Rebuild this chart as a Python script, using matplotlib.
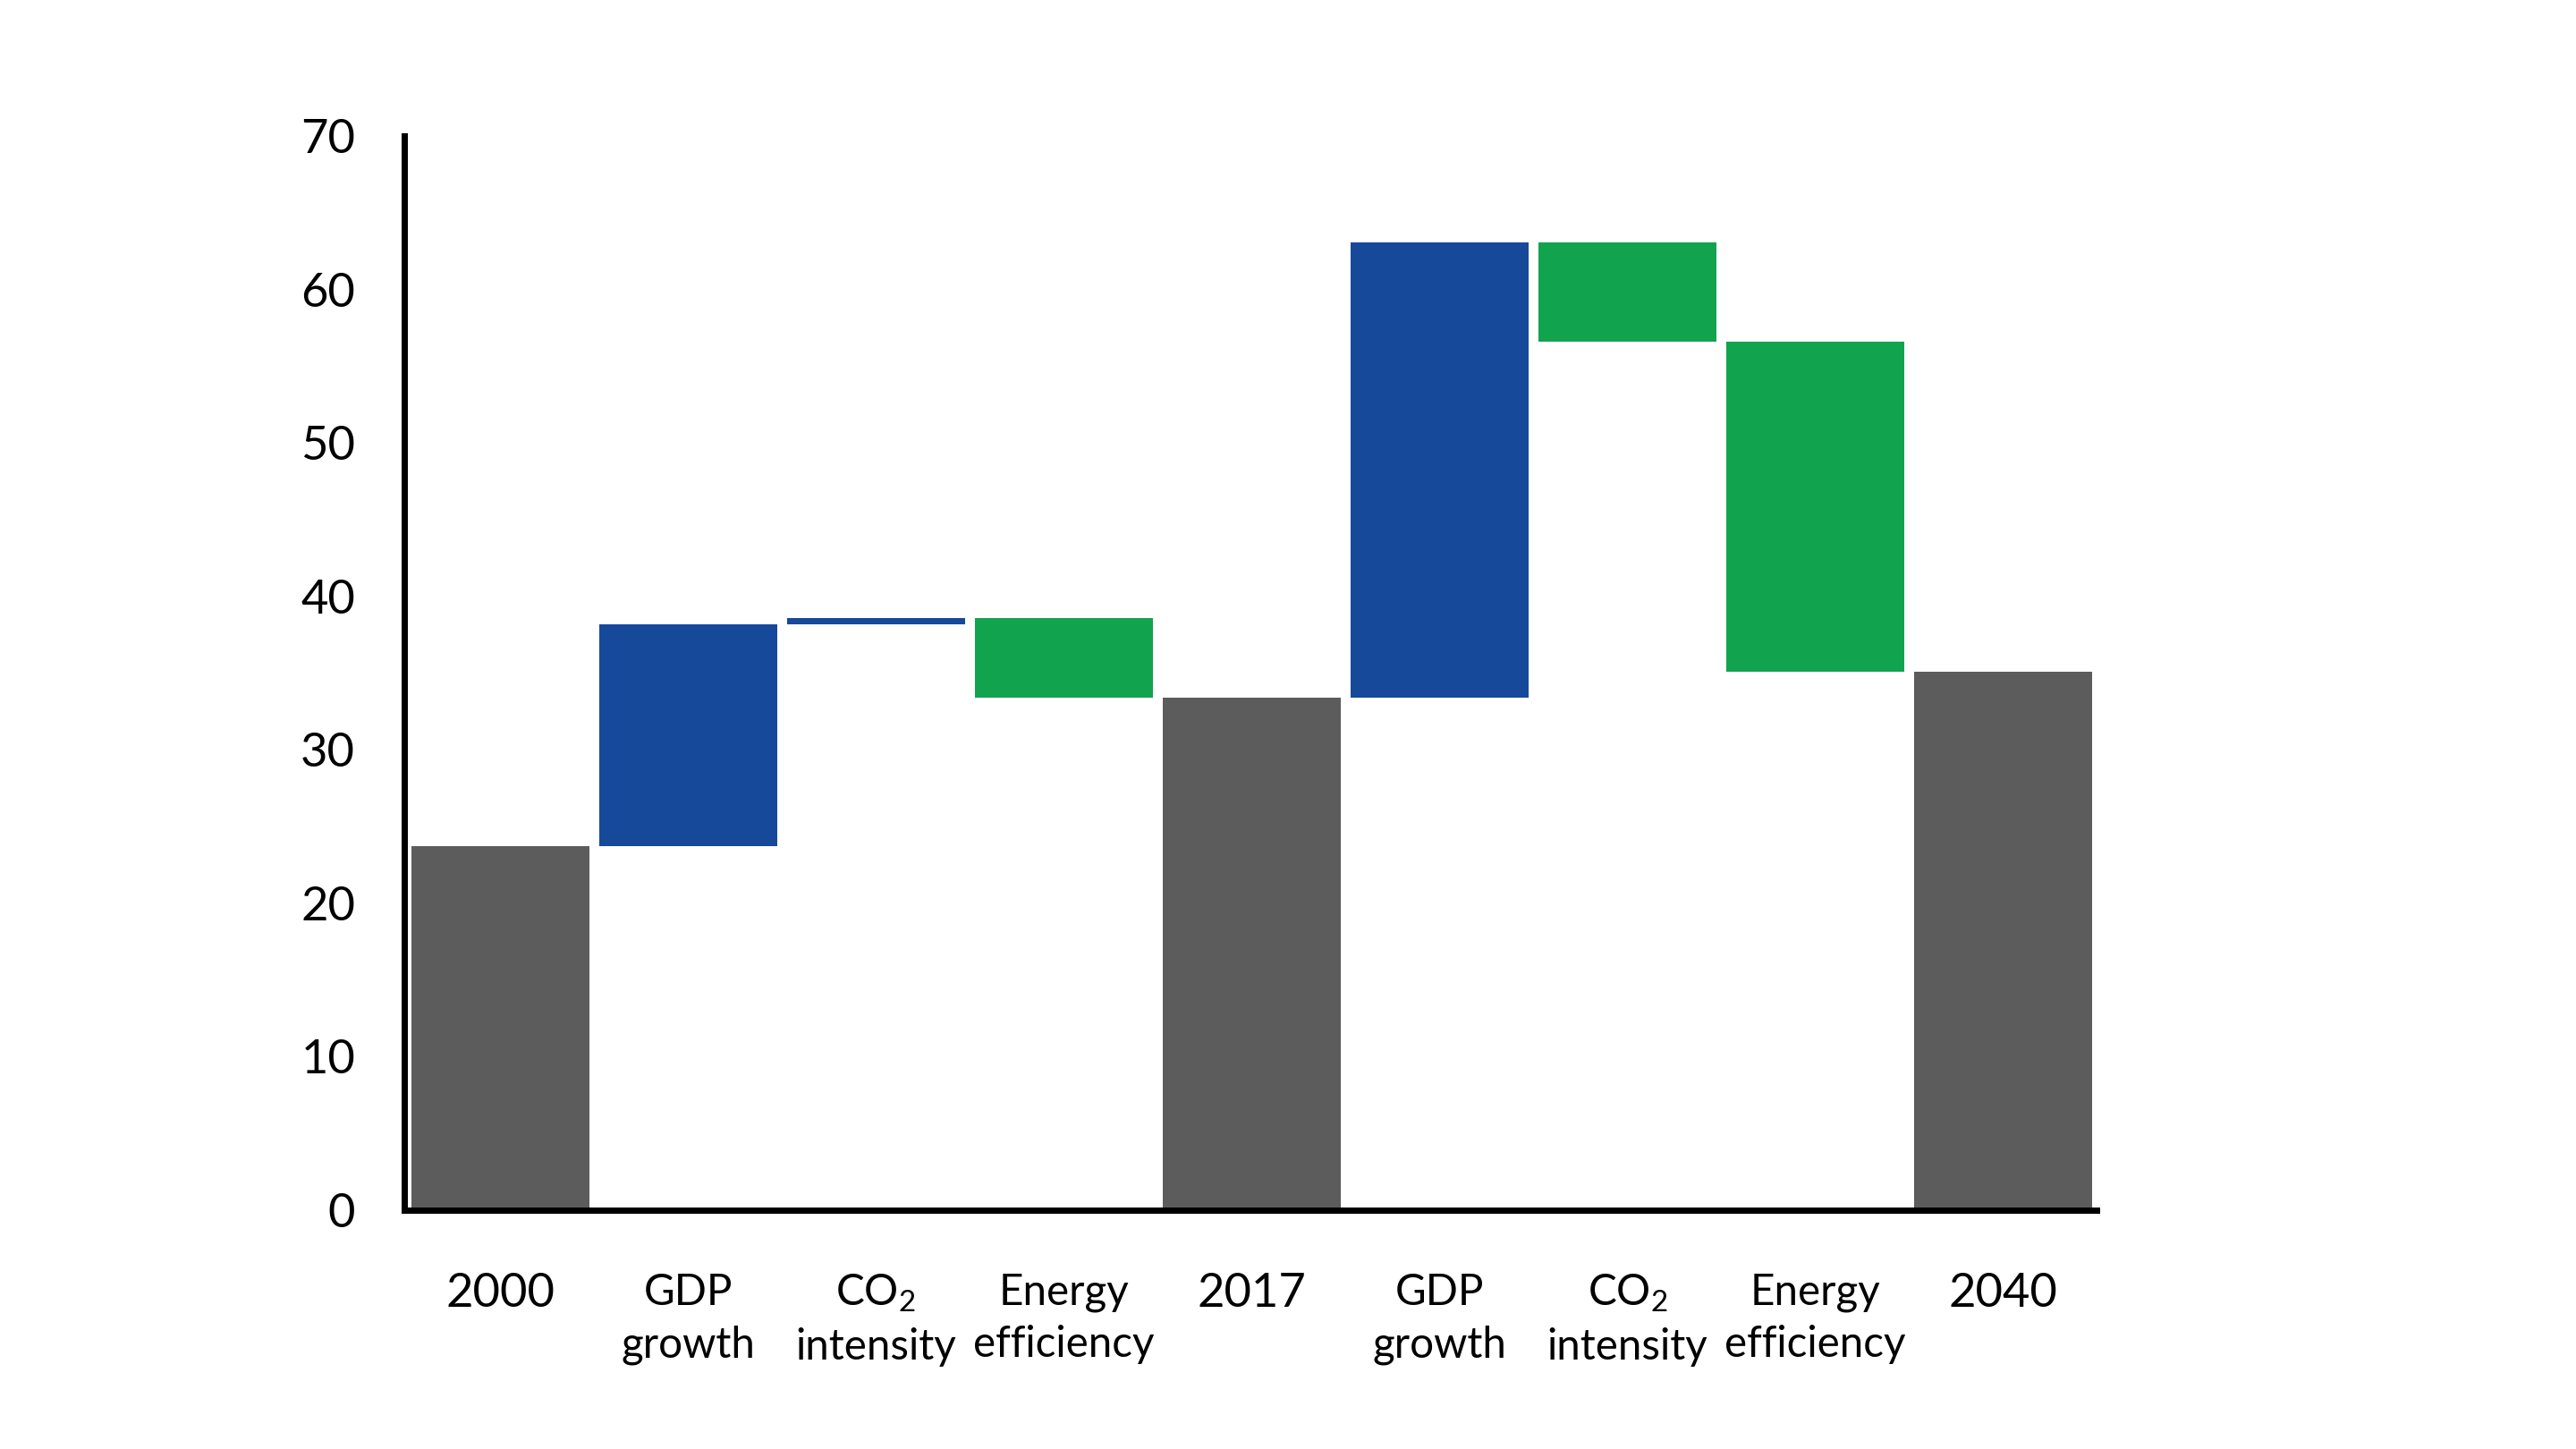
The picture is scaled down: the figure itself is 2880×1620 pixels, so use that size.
import matplotlib
matplotlib.use("Agg")
import matplotlib.pyplot as plt
import numpy as np

plt.rcParams['font.family'] = ['Lato', 'DejaVu Sans']
plt.rcParams['mathtext.fontset'] = 'custom'
plt.rcParams['mathtext.rm'] = 'Lato'
plt.rcParams['mathtext.it'] = 'Lato:italic'

# waterfall steps: totals are absolute, the others are changes
labels = ["2000", "GDP\ngrowth", "CO$_\\mathrm{2}$\nintensity", "Energy\nefficiency",
          "2017", "GDP\ngrowth", "CO$_\\mathrm{2}$\nintensity", "Energy\nefficiency",
          "2040"]
values = [23.7, 14.5, 0.4, -5.2, 33.4, 29.7, -6.5, -21.5, 35.1]
is_total = [True, False, False, False, True, False, False, False, True]

gray = "#5b5c5b"
blue = "#16499a"
green = "#12a34f"

bottoms = []
heights = []
colors = []
running = 0
for v, tot in zip(values, is_total):
    if tot:
        bottoms.append(0)
        heights.append(v)
        colors.append(gray)
        running = v
    else:
        bottoms.append(running if v > 0 else running + v)
        heights.append(abs(v))
        colors.append(blue if v > 0 else green)
        running += v

fig = plt.figure(figsize=(16, 9), dpi=180)
ax = fig.add_axes([0.157, 0.165, 0.657, 0.741])

x = np.arange(len(values))
ax.bar(x, heights, bottom=bottoms, width=0.947, color=colors, linewidth=0)

ax.set_xlim(-0.51, 8.5)
ax.set_ylim(0, 70)
ax.set_yticks(np.arange(0, 71, 10))

ax.spines['top'].set_visible(False)
ax.spines['right'].set_visible(False)
ax.spines['left'].set_linewidth(2.8)
ax.spines['bottom'].set_linewidth(2.8)
ax.spines['left'].set_color("black")
ax.spines['bottom'].set_color("black")

ax.tick_params(axis='y', length=0, pad=22, labelsize=21)
ax.tick_params(axis='x', length=0, pad=28)
ax.set_xticks(x)
ax.set_xticklabels(labels, va='top')
for lab, tot in zip(ax.get_xticklabels(), is_total):
    lab.set_fontsize(21 if tot else 19)
    lab.set_linespacing(1.4)

fig.savefig("out.png", dpi=180, facecolor="white")
